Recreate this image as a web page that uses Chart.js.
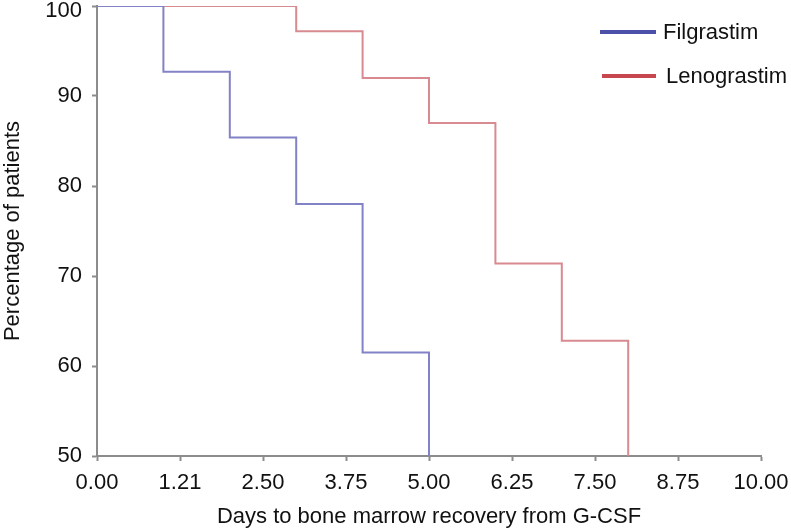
<!DOCTYPE html>
<html>
<head>
<meta charset="utf-8">
<script src="https://cdn.jsdelivr.net/npm/chart.js@4"></script>
<style>
  body { margin: 0; background: #fff; }
  canvas { display: block; }
</style>
</head>
<body>
<canvas id="grafico" width="791" height="532"></canvas>
<script>
// dados
const dias = [0, 1, 2, 3, 4, 5, 6, 7, 8];
const filgrastim = [100, 92.7, 85.4, 78.0, 61.5, 50];
const lenograstim = [100, 100, 100, 97.2, 92.0, 87.0, 71.4, 62.8, 50];
const xTickLabels = ['0.00', '1.21', '2.50', '3.75', '5.00', '6.25', '7.50', '8.75', '10.00'];
const nomes = ['Filgrastim', 'Lenograstim'];

const fonte = 'Liberation Sans, Arial, sans-serif';
const cinza = '#8c8c8c';

function pontos(valores) {
  return valores.map((v, i) => ({ x: dias[i], y: v }));
}

// legenda desenhada dentro da area do grafico
const legendaPlugin = {
  id: 'legendaManual',
  beforeDraw(chart) {
    // o rotulo "100" fica um pouco abaixo da linha, como na figura
    const itens = chart.scales.y.getLabelItems();
    itens.forEach(it => {
      if (it.label === '100') it.options.translation[1] += 5;
    });
  },
  afterDraw(chart) {
    const ctx = chart.ctx;
    const cores = ['#4b50a8', '#c8464e'];
    const linhas = [{ y: 32, x0: 600, x1: 656, tx: 663 }, { y: 76, x0: 602, x1: 656, tx: 666 }];
    ctx.save();
    ctx.font = '22px ' + fonte;
    ctx.textBaseline = 'middle';
    chart.data.datasets.forEach((ds, i) => {
      const l = linhas[i];
      ctx.strokeStyle = cores[i];
      ctx.lineWidth = 4;
      ctx.beginPath();
      ctx.moveTo(l.x0, l.y);
      ctx.lineTo(l.x1, l.y);
      ctx.stroke();
      ctx.fillStyle = '#111';
      ctx.fillText(ds.label, l.tx, l.y + 1);
    });
    ctx.restore();
  }
};

const ctx = document.getElementById('grafico').getContext('2d');
new Chart(ctx, {
  type: 'line',
  data: {
    datasets: [
      {
        label: nomes[0],
        data: pontos(filgrastim),
        borderColor: '#8282c6',
        borderWidth: 2,
        pointRadius: 0,
        stepped: true,
        fill: false
      },
      {
        label: nomes[1],
        data: pontos(lenograstim),
        borderColor: '#d88a90',
        borderWidth: 2,
        pointRadius: 0,
        stepped: true,
        fill: false
      }
    ]
  },
  options: {
    responsive: false,
    animation: false,
    layout: { padding: { left: 0, right: 30, top: 6, bottom: 0 } },
    plugins: {
      legend: { display: false },
      tooltip: { enabled: false }
    },
    scales: {
      x: {
        type: 'linear',
        min: 0,
        max: 10,
        border: { color: cinza, width: 2 },
        grid: { drawOnChartArea: false, color: cinza, tickLength: 5, tickWidth: 2 },
        ticks: {
          stepSize: 1.25,
          autoSkip: false,
          maxRotation: 0,
          padding: 9,
          color: '#111',
          font: { family: fonte, size: 22 },
          callback: (v, i) => xTickLabels[i]
        },
        title: {
          display: true,
          text: 'Days to bone marrow recovery from G-CSF',
          color: '#111',
          font: { family: fonte, size: 22 },
          padding: { top: 0, bottom: 2 }
        },
        afterFit(scale) {
          scale.height = 76;
          scale.paddingLeft = 0;
          scale.paddingRight = 0;
        }
      },
      y: {
        min: 50,
        max: 100,
        border: { color: cinza, width: 2 },
        grid: { drawOnChartArea: false, color: cinza, tickLength: 5, tickWidth: 2 },
        ticks: {
          stepSize: 10,
          padding: 10,
          color: '#111',
          font: { family: fonte, size: 22 }
        },
        title: {
          display: true,
          text: 'Percentage of patients',
          color: '#111',
          font: { family: fonte, size: 22 },
          padding: { top: 0, bottom: 0 }
        },
        afterFit(scale) {
          scale.width = 97;
          scale.paddingTop = 0;
          scale.paddingBottom = 0;
        }
      }
    }
  },
  plugins: [legendaPlugin]
});
</script>
</body>
</html>
